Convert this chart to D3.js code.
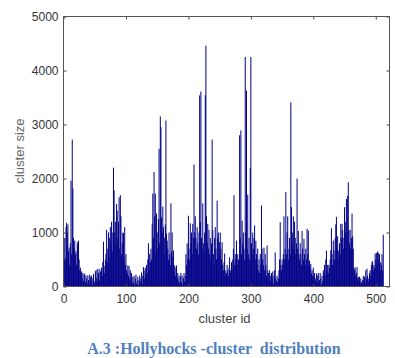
<!DOCTYPE html>
<html>
<head>
<meta charset="utf-8">
<script src="https://cdn.jsdelivr.net/npm/d3@7/dist/d3.min.js"></script>
<style>
  html, body { margin: 0; padding: 0; background: #fff; }
  svg text { white-space: pre; }
</style>
</head>
<body>
<svg id="chart" width="395" height="358"></svg>
<script>
// cluster sizes for cluster ids 1..512
const clusterSizes = [
  480, 900, 520, 1100, 1180, 1000, 1150, 650, 720, 400,
  800, 1960, 600, 2720, 1815, 900, 700, 850, 600, 650,
  400, 820, 780, 850, 500, 300, 350, 250, 280, 150,
  250, 100, 220, 240, 80, 200, 150, 60, 210, 120,
  40, 220, 180, 90, 200, 30, 150, 230, 100, 60,
  280, 300, 150, 320, 90, 250, 330, 120, 270, 300,
  350, 200, 450, 830, 380, 250, 500, 600, 1050, 450,
  700, 1000, 550, 900, 1100, 800, 1200, 650, 1000, 2200,
  1780, 1000, 1200, 800, 1530, 1400, 900, 1200, 1650, 700,
  1690, 1300, 600, 800, 1000, 990, 500, 1100, 400, 600,
  300, 250, 390, 200, 380, 150, 300, 100, 250, 60,
  180, 80, 200, 40, 150, 220, 50, 100, 180, 30,
  120, 200, 90, 150, 260, 40, 200, 360, 300, 150,
  350, 220, 400, 250, 500, 800, 300, 600, 450, 700,
  500, 1150, 1720, 900, 2120, 1300, 1720, 600, 1350, 1000,
  700, 1250, 2550, 800, 3150, 2950, 1280, 1000, 1480, 1100,
  600, 900, 1150, 3075, 980, 850, 700, 500, 1000, 600,
  400, 1540, 650, 1000, 550, 670, 300, 390, 200, 350,
  390, 150, 250, 100, 200, 60, 180, 250, 80, 200,
  40, 150, 250, 100, 200, 600, 400, 800, 500, 1310,
  700, 500, 1170, 800, 1000, 600, 1160, 900, 2260, 1000,
  1300, 900, 700, 1100, 800, 600, 1000, 3540, 1200, 3610,
  900, 700, 1540, 800, 600, 1000, 3540, 4460, 1300, 800,
  1160, 700, 1050, 600, 900, 500, 800, 2720, 1050, 600,
  400, 900, 1100, 700, 500, 1590, 900, 1000, 600, 820,
  1000, 700, 500, 820, 400, 300, 450, 610, 300, 200,
  250, 400, 300, 200, 350, 540, 300, 250, 450, 300,
  500, 700, 1690, 400, 600, 500, 850, 400, 600, 500,
  500, 2800, 900, 2890, 600, 1220, 800, 1000, 700, 500,
  4250, 1000, 3630, 700, 1700, 600, 900, 500, 2200, 4250,
  800, 600, 1000, 700, 900, 1130, 500, 850, 600, 400,
  700, 300, 500, 250, 600, 400, 1500, 700, 500, 400,
  720, 300, 600, 400, 200, 760, 300, 250, 150, 300,
  200, 100, 250, 150, 280, 50, 200, 300, 630, 150,
  100, 200, 80, 150, 300, 500, 1190, 400, 300, 500,
  400, 600, 1300, 500, 700, 1750, 600, 1000, 1300, 500,
  700, 900, 600, 3410, 1470, 800, 1000, 1300, 700, 1200,
  900, 600, 800, 2000, 700, 1030, 600, 500, 800, 600,
  400, 1030, 700, 500, 880, 600, 400, 700, 500, 1070,
  600, 1035, 400, 480, 350, 420, 240, 300, 200, 350,
  180, 250, 150, 100, 240, 80, 200, 250, 60, 120,
  250, 150, 40, 200, 100, 300, 250, 400, 200, 500,
  665, 300, 400, 250, 400, 350, 500, 670, 1080, 600,
  400, 850, 670, 500, 900, 1150, 1290, 700, 930, 660,
  500, 800, 600, 1160, 900, 1160, 1045, 700, 900, 1470,
  1000, 1200, 1620, 1000, 1680, 1930, 1045, 800, 1050, 700,
  900, 1350, 930, 700, 350, 300, 350, 200, 250, 360,
  150, 180, 100, 180, 60, 150, 80, 40, 120, 200,
  100, 180, 60, 300, 150, 330, 200, 100, 150, 250,
  300, 200, 400, 450, 470, 300, 400, 350, 610, 500,
  620, 400, 650, 620, 500, 600, 300, 450, 400, 600,
  300, 960
];
const clusterIds = clusterSizes.map((_, i) => i + 1);
const xTicks = [0, 100, 200, 300, 400, 500];
const yTicks = [0, 1000, 2000, 3000, 4000, 5000];
const xLabel = "cluster id";
const yLabel = "cluster size";
const caption = "A.3 :Hollyhocks -cluster  distribution";

const svg = d3.select("#chart");
const L = 63.5, R = 389.5, T = 16.5, B = 286.5;
const x = d3.scaleLinear().domain([0, 522]).range([L, R]);
const y = d3.scaleLinear().domain([0, 5000]).range([B, T]);
const step = x(1) - x(0);
const barColor = "#000088";

// bars
svg.append("g").selectAll("rect").data(clusterIds).join("rect")
  .attr("x", d => x(d) - step * 0.8)
  .attr("width", step * 1.6)
  .attr("y", (d, i) => y(clusterSizes[i]))
  .attr("height", (d, i) => y(0) - y(clusterSizes[i]))
  .attr("fill", barColor);

const tickFont = "'Liberation Sans', Arial, sans-serif";
const axisColor = "#444";

// axes (ticks inward, MATLAB style)
const xAxis = svg.append("g").attr("transform", `translate(0,${B})`)
  .call(d3.axisBottom(x).tickValues(xTicks).tickSizeInner(-3).tickSizeOuter(0).tickPadding(8).tickFormat(d3.format("d")));
const xTop = svg.append("g").attr("transform", `translate(0,${T})`)
  .call(d3.axisTop(x).tickValues(xTicks).tickSizeInner(-3).tickSizeOuter(0).tickFormat(""));
const yAxis = svg.append("g").attr("transform", `translate(${L},0)`)
  .call(d3.axisLeft(y).tickValues(yTicks).tickSizeInner(-3).tickSizeOuter(0).tickPadding(5).tickFormat(d3.format("d")));
const yRight = svg.append("g").attr("transform", `translate(${R},0)`)
  .call(d3.axisRight(y).tickValues(yTicks).tickSizeInner(-3).tickSizeOuter(0).tickFormat(""));

[xAxis, xTop, yAxis, yRight].forEach(g => {
  g.select(".domain").remove();
  g.selectAll(".tick line").attr("stroke", axisColor);
  g.selectAll("text").attr("fill", "#333").style("font-family", tickFont).style("font-size", "12px");
});

// box
svg.append("rect").attr("x", L).attr("y", T).attr("width", R - L).attr("height", B - T)
  .attr("fill", "none").attr("stroke", "#555").attr("stroke-width", 1);

// axis labels
svg.append("text").attr("x", (L + R) / 2 - 2).attr("y", 323)
  .attr("text-anchor", "middle").attr("fill", "#444")
  .style("font-family", tickFont).style("font-size", "13px").text(xLabel);
svg.append("text").attr("transform", `translate(24,151) rotate(-90)`)
  .attr("text-anchor", "middle").attr("fill", "#666")
  .style("font-family", tickFont).style("font-size", "13px").text(yLabel);

// caption
svg.append("text").attr("x", 214).attr("y", 354)
  .attr("text-anchor", "middle").attr("fill", "#4f81bd")
  .style("font-family", "'Liberation Serif', 'Times New Roman', serif")
  .style("font-weight", "bold").style("font-size", "16px").text(caption);
</script>
</body>
</html>
